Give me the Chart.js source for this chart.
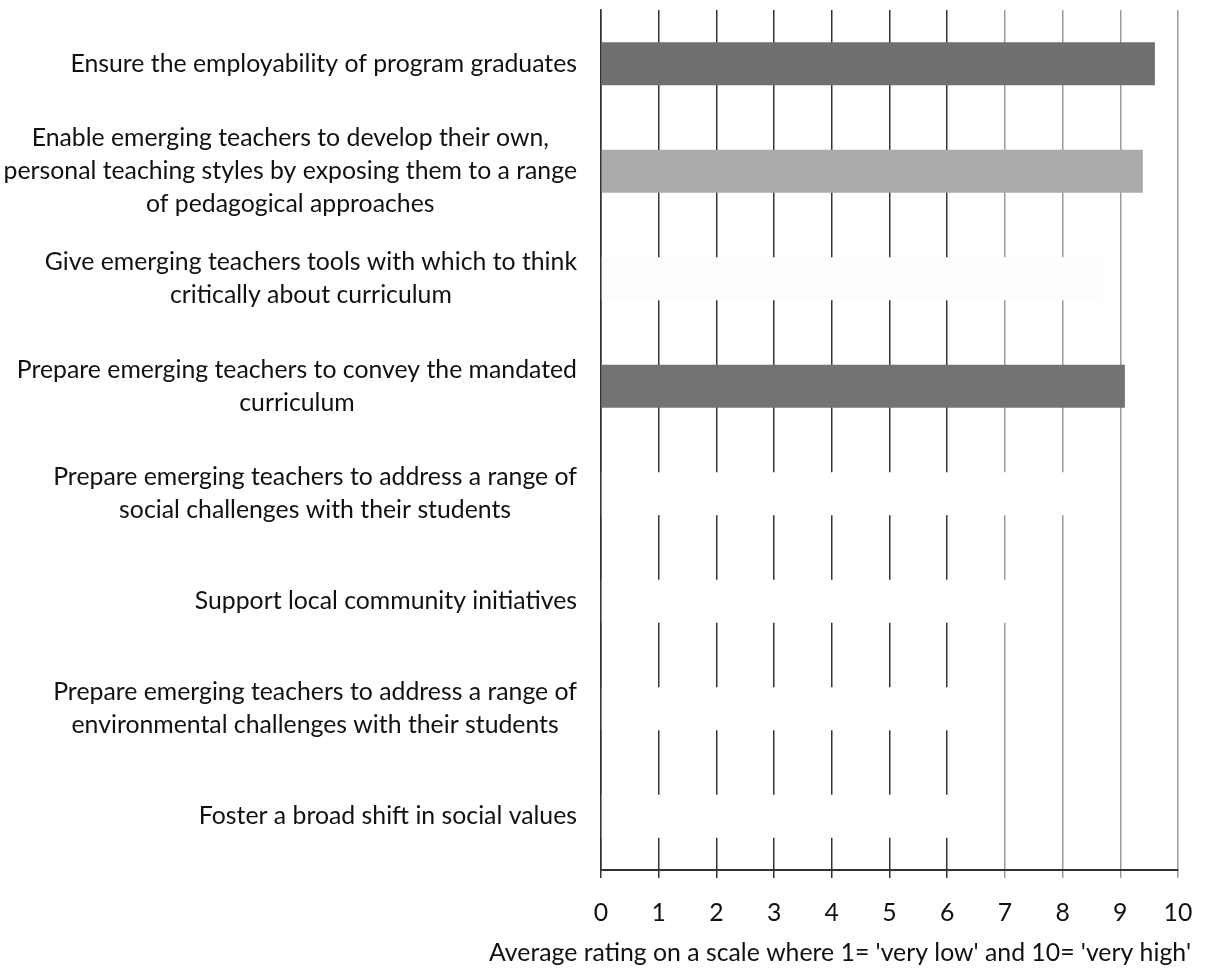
<!DOCTYPE html>
<html>
<head>
<meta charset="utf-8">
<script src="https://cdn.jsdelivr.net/npm/chart.js@4"></script>
<style>
  html, body { margin: 0; padding: 0; background: #ffffff; }
  #wrap { width: 1206px; height: 969px; }
</style>
</head>
<body>
<div id="wrap"><canvas id="chart" width="1206" height="969"></canvas></div>
<script>
// Goals, one entry per bar (each inner array is the wrapped label lines)
const categories = [
  ["Ensure the employability of program graduates"],
  ["Enable emerging teachers to develop their own,", "personal teaching styles by exposing them to a range", "of pedagogical approaches"],
  ["Give emerging teachers tools with which to think", "critically about curriculum"],
  ["Prepare emerging teachers to convey the mandated", "curriculum"],
  ["Prepare emerging teachers to address a range of", "social challenges with their students"],
  ["Support local community initiatives"],
  ["Prepare emerging teachers to address a range of", "environmental challenges with their students"],
  ["Foster a broad shift in social values"]
];

// Average rating per goal (1 = very low, 10 = very high)
const averageRatings = [9.6, 9.39, 8.7, 9.08, 8.5, 7.5, 6.7, 6.5];

// Fill per bar
const barColors = ["#707070", "#ababab", "#fdfdfd", "#737373", "#ffffff", "#ffffff", "#ffffff", "#ffffff"];

// Value axis
const xTickValues = [0, 1, 2, 3, 4, 5, 6, 7, 8, 9, 10];
const xAxisTitle = "Average rating on a scale where 1= 'very low' and 10= 'very high'";

const FONT_FAMILY = "Lato, 'Open Sans', sans-serif";
const FONT_SIZE = 24.8;
const LABEL_LINE_HEIGHT = 33;
const LABEL_RIGHT = 577;
const TITLE_CENTER_X = 840;
const TITLE_CENTER_Y = 953;

// Draws the goal labels (each block right-aligned to the axis, its lines centred on one another)
// and the value-axis title, which runs wider than the plot area
const axisText = {
  id: "axisText",
  afterDraw(chart) {
    const { ctx } = chart;
    const y = chart.scales.y;
    ctx.save();
    ctx.font = FONT_SIZE + "px " + FONT_FAMILY;
    ctx.fillStyle = "#111111";
    ctx.textAlign = "center";
    ctx.textBaseline = "middle";
    categories.forEach((lines, i) => {
      const cy = y.getPixelForTick(i);
      const w = Math.max(...lines.map(l => ctx.measureText(l).width));
      const cx = LABEL_RIGHT - w / 2;
      lines.forEach((line, k) => {
        ctx.fillText(line, cx, cy + (k - (lines.length - 1) / 2) * LABEL_LINE_HEIGHT);
      });
    });
    ctx.fillText(xAxisTitle, TITLE_CENTER_X, TITLE_CENTER_Y);
    ctx.restore();
  }
};

const gridColor = ctx => (ctx.tick && ctx.tick.value >= 7 ? "#9a9a9a" : "#333333");

new Chart(document.getElementById("chart"), {
  type: "bar",
  data: {
    labels: categories.map(l => l.join(" ")),
    datasets: [{
      data: averageRatings,
      backgroundColor: barColors,
      borderWidth: 0,
      barPercentage: 0.4,
      categoryPercentage: 1.0
    }]
  },
  options: {
    indexAxis: "y",
    responsive: false,
    devicePixelRatio: 1,
    animation: false,
    layout: { padding: { top: 10, right: 28, bottom: 0, left: 0 } },
    plugins: {
      legend: { display: false },
      tooltip: { enabled: false }
    },
    scales: {
      x: {
        type: "linear",
        min: 0,
        max: 10,
        afterBuildTicks: scale => { scale.ticks = xTickValues.map(v => ({ value: v })); },
        afterFit: scale => {
          scale.height = 99;
          scale.paddingRight = 0;
        },
        grid: {
          color: gridColor,
          tickColor: gridColor,
          lineWidth: 1.5,
          tickLength: 8,
          drawTicks: true
        },
        border: { display: true, color: "#333333", width: 2 },
        ticks: {
          color: "#111111",
          padding: 20,
          maxRotation: 0,
          font: { family: FONT_FAMILY, size: FONT_SIZE }
        },
        title: { display: false }
      },
      y: {
        type: "category",
        offset: true,
        z: 1,
        afterFit: scale => { scale.width = 601; },
        grid: { display: false },
        border: { display: true, color: "#333333", width: 1.5 },
        ticks: { display: false }
      }
    }
  },
  plugins: [axisText]
});
</script>
</body>
</html>
